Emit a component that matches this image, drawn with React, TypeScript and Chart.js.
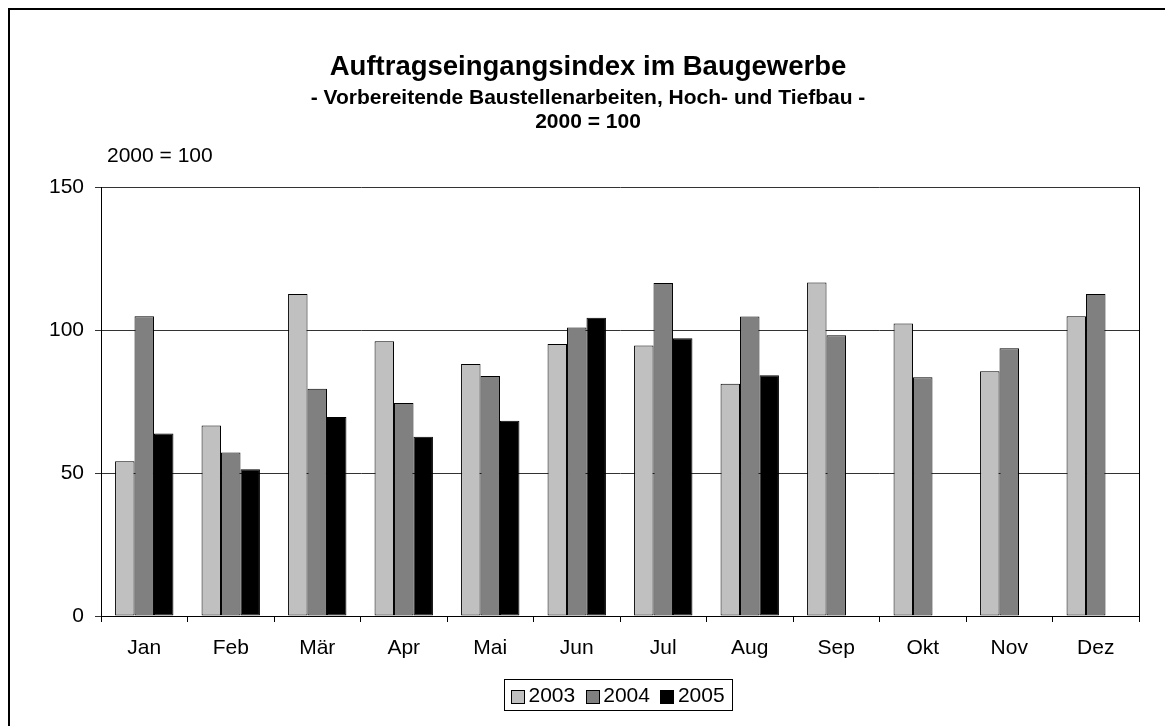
import React, { useEffect, useRef } from "react";
import { Chart, registerables } from "chart.js";

Chart.register(...registerables);

const months = ["Jan", "Feb", "Mär", "Apr", "Mai", "Jun", "Jul", "Aug", "Sep", "Okt", "Nov", "Dez"];
const values2003 = [54.1, 66.6, 112.6, 96.1, 88.1, 95.1, 94.6, 81.2, 116.6, 102.3, 85.6, 104.8];
const values2004 = [104.8, 57.2, 79.5, 74.5, 83.9, 100.9, 116.4, 104.7, 98.2, 83.5, 93.6, 112.6];
const values2005 = [63.8, 51.3, 69.6, 62.7, 68.3, 104.3, 97.1, 84.2, null, null, null, null];
const seriesLabels = ["2003", "2004", "2005"];
const seriesColors = ["#C0C0C0", "#808080", "#000000"];
const yTicks = [0, 50, 100, 150];
const titleText = "Auftragseingangsindex im Baugewerbe";
const subtitleLines = ["- Vorbereitende Baustellenarbeiten, Hoch- und Tiefbau -", "2000 = 100"];
const axisCaption = "2000 = 100";

const FONT = "'Liberation Sans', Arial, Helvetica, sans-serif";
const W = 1163;
const H = 716;

const decor = {
  id: "decor",
  afterDraw(chart: any) {
    const { ctx, chartArea: a } = chart;
    ctx.save();
    // right edge of plot frame
    ctx.strokeStyle = "#000";
    ctx.lineWidth = 1;
    const rx = Math.round(a.right) + 0.5;
    ctx.beginPath();
    ctx.moveTo(rx, a.top);
    ctx.lineTo(rx, a.bottom);
    ctx.stroke();

    // titles
    const tx = 578;
    ctx.fillStyle = "#000";
    ctx.textAlign = "center";
    ctx.textBaseline = "alphabetic";
    ctx.font = `bold 27.5px ${FONT}`;
    ctx.fillText(titleText, tx, 64.5);
    ctx.font = `bold 21px ${FONT}`;
    ctx.fillText(subtitleLines[0], tx, 93.5);
    ctx.fillText(subtitleLines[1], tx, 118);

    // axis caption
    ctx.textAlign = "left";
    ctx.font = `21px ${FONT}`;
    ctx.fillText(axisCaption, 97, 152);

    // legend
    ctx.font = `21px ${FONT}`;
    const box = 13;
    const gapBT = 4.5;
    const gapItems = 10.5;
    const padX = 7;
    const items = chart.data.datasets.map((ds: any) => ({
      text: ds.label,
      color: ds.backgroundColor,
      w: ctx.measureText(ds.label).width,
    }));
    const contentW =
      items.reduce((s: number, it: any) => s + box + gapBT + it.w, 0) + gapItems * (items.length - 1);
    const totalW = contentW + 2 * padX;
    const cx = (a.left + a.right) / 2;
    const left = Math.round(cx - totalW / 2) - 2;
    const top = 669.5;
    const h = 31;
    ctx.strokeStyle = "#000";
    ctx.lineWidth = 1;
    ctx.strokeRect(left + 0.5, top, Math.round(totalW), h);
    let x = left + padX;
    const cy = top + h / 2 + 1;
    ctx.textBaseline = "middle";
    items.forEach((it: any) => {
      const bx = Math.round(x) + 0.5;
      const by = Math.round(cy - box / 2) + 0.5;
      ctx.fillStyle = it.color;
      ctx.fillRect(bx, by, box, box);
      ctx.strokeStyle = "#000";
      ctx.strokeRect(bx, by, box, box);
      ctx.fillStyle = "#000";
      ctx.fillText(it.text, x + box + gapBT, cy);
      x += box + gapBT + it.w + gapItems;
    });
    ctx.restore();
  },
};

export default function App() {
  const ref = useRef<HTMLCanvasElement | null>(null);

  useEffect(() => {
    document.documentElement.style.overflow = "hidden";
    document.body.style.overflow = "hidden";
    if (!ref.current) return;
    const seriesData = [values2003, values2004, values2005];
    const chart = new Chart(ref.current, {
      type: "bar",
      data: {
        labels: months,
        datasets: seriesLabels.map((lab, i) => ({
          label: lab,
          data: seriesData[i],
          backgroundColor: seriesColors[i],
          borderColor: "#000",
          borderWidth: 1,
          borderSkipped: false,
          categoryPercentage: 0.675,
          barPercentage: 1.0,
        })),
      },
      options: {
        responsive: false,
        animation: false,
        devicePixelRatio: 1,
        layout: { padding: { top: 177, left: 0, right: 34, bottom: 0 } },
        plugins: {
          legend: { display: false },
          title: { display: false },
          tooltip: { enabled: false },
        },
        scales: {
          x: {
            offset: true,
            grid: {
              display: true,
              drawOnChartArea: false,
              drawTicks: true,
              tickLength: 6,
              color: "#000",
              offset: true,
            },
            border: { display: true, color: "#000", width: 1 },
            ticks: {
              color: "#000",
              font: { family: FONT, size: 21 },
              padding: 14,
              maxRotation: 0,
              autoSkip: false,
            },
            afterFit: (scale: any) => {
              scale.height = 110;
            },
          },
          y: {
            min: 0,
            max: 150,
            afterBuildTicks: (scale: any) => {
              scale.ticks = yTicks.map((v) => ({ value: v }));
            },
            grid: {
              color: "#333",
              drawTicks: true,
              tickLength: 6,
            },
            border: { display: true, color: "#000", width: 1 },
            ticks: {
              color: "#000",
              font: { family: FONT, size: 21 },
              padding: 11,
            },
            afterFit: (scale: any) => {
              scale.width = 91;
            },
          },
        },
      },
      plugins: [decor],
    });
    return () => chart.destroy();
  }, []);

  return (
    <div
      style={{
        width: W + 2,
        height: H + 2,
        borderTop: "2px solid #000",
        borderLeft: "2px solid #000",
        boxSizing: "border-box",
        background: "#fff",
      }}
    >
      <canvas ref={ref} width={W} height={H} style={{ display: "block", width: W, height: H }} />
    </div>
  );
}
